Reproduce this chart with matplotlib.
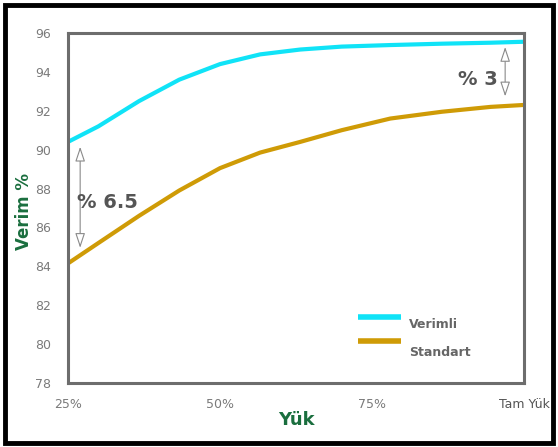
import matplotlib
matplotlib.use('Agg')
import matplotlib.pyplot as plt
from matplotlib.patches import Rectangle

load = [25, 30, 36.7, 43.3, 50, 56.6, 63.2, 70, 78, 86.5, 94.5, 100]
verimli = [90.4, 91.2, 92.5, 93.6, 94.4, 94.9, 95.15, 95.3, 95.38, 95.45, 95.5, 95.55]
standart = [84.15, 85.2, 86.6, 87.9, 89.05, 89.85, 90.4, 91.0, 91.6, 91.95, 92.2, 92.3]

xticks = [25, 50, 75, 100]
xtick_labels = ['25%', '50%', '75%', 'Tam Yük']
yticks = [78, 80, 82, 84, 86, 88, 90, 92, 94, 96]

cyan = '#10e3f7'
gold = '#cf9b06'
green = '#1a6e3e'
grey = '#7a7a7a'

fig = plt.figure(figsize=(5.58, 4.47), dpi=100)
ax = fig.add_axes([68/558, 1-383/447, 456/558, 350/447])

ax.plot(load, verimli, color=cyan, lw=3.0, solid_capstyle='butt')
ax.plot(load, standart, color=gold, lw=3.0, solid_capstyle='butt')

ax.set_xlim(25, 100)
ax.set_ylim(78, 96)
ax.set_xticks(xticks)
ax.set_xticklabels(xtick_labels)
ax.set_yticks(yticks)
ax.tick_params(length=0, labelsize=9, labelcolor=grey)
ax.tick_params(axis='x', pad=11)
ax.tick_params(axis='y', pad=12)
ax.get_xticklabels()[-1].set_color('#555555')
for s in ax.spines.values():
    s.set_color('#6d6d6d')
    s.set_linewidth(2.2)

ax.set_ylabel('Verim %', color=green, fontsize=12, fontweight='bold')
ax.yaxis.set_label_coords(-0.077, 0.49)
ax.set_xlabel('Yük', color=green, fontsize=13, fontweight='bold', labelpad=0)

# difference arrows
aprops = dict(arrowstyle='<|-|>,head_length=0.9,head_width=0.3', color='#8a8a8a',
              lw=0.8, shrinkA=0, shrinkB=0, fc='white')
ax.annotate('', xy=(27.0, 90.15), xytext=(27.0, 84.95), arrowprops=aprops)
ax.annotate('', xy=(96.9, 95.28), xytext=(96.9, 92.74), arrowprops=aprops)
ax.text(26.5, 87.26, '% 6.5', fontsize=14, fontweight='bold', color='#555555',
        ha='left', va='center')
ax.text(95.7, 93.62, '% 3', fontsize=14, fontweight='bold', color='#555555',
        ha='right', va='center')

# legend drawn by hand
ax.plot([0.635, 0.73], [0.19, 0.19], transform=ax.transAxes, color=cyan, lw=4,
        solid_capstyle='butt')
ax.plot([0.635, 0.73], [0.12, 0.12], transform=ax.transAxes, color=gold, lw=4,
        solid_capstyle='butt')
ax.text(0.747, 0.168, 'Verimli', transform=ax.transAxes, fontsize=9,
        fontweight='bold', color='#666666', va='center')
ax.text(0.747, 0.088, 'Standart', transform=ax.transAxes, fontsize=9,
        fontweight='bold', color='#666666', va='center')

# outer frame
fig.patches.append(Rectangle((5/558, 4/447), 548/558, 438/447, transform=fig.transFigure,
                             fill=False, ec='black', lw=3.5))

fig.savefig('out.png', dpi=100)
